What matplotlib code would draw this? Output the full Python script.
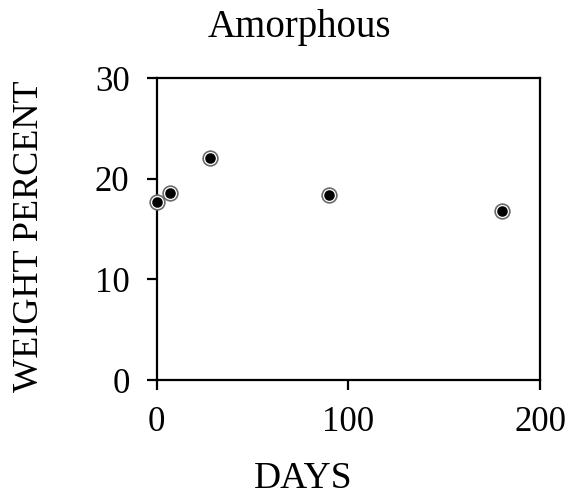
import matplotlib
matplotlib.use("Agg")
import matplotlib.pyplot as plt

days = [0, 7, 28, 90, 180]
weight_pct = [17.7, 18.6, 22.1, 18.4, 16.8]

plt.rcParams["font.family"] = ["Liberation Serif", "DejaVu Serif"]

W, H = 571, 498
fig = plt.figure(figsize=(W / 100, H / 100), dpi=100)
ax = fig.add_axes([156.7 / W, 1 - 380 / H, (540 - 156.7) / W, (380 - 78.3) / H])

# gray halo, white ring, black dot
ax.plot(days, weight_pct, "o", ms=11.8, mfc="#6a6a6a", mec="none", clip_on=False, zorder=3)
ax.plot(days, weight_pct, "o", ms=9.4, mfc="white", mec="none", clip_on=False, zorder=4)
ax.plot(days, weight_pct, "o", ms=7.6, mfc="black", mec="none", clip_on=False, zorder=5)

ax.set_xlim(0, 200)
ax.set_ylim(0, 30)
ax.set_xticks([0, 100, 200])
ax.set_yticks([0, 10, 20, 30])
for s in ax.spines.values():
    s.set_linewidth(1.6)
ax.tick_params(direction="out", length=7.5, width=1.6, labelsize=25)
ax.tick_params(axis="x", pad=11)
ax.tick_params(axis="y", pad=12)

# title and axis labels sit off the axes centre in the original
fig.text(299.5 / W, 1 - 37 / H, "Amorphous", fontsize=28, ha="center", va="baseline")
fig.text(303 / W, 1 - 488 / H, "DAYS", fontsize=27, ha="center", va="baseline")
fig.text(30 / W, 1 - 236 / H, "WEIGHT PERCENT", fontsize=26, rotation=90,
         ha="center", va="center")

fig.savefig("out.png", dpi=100)
